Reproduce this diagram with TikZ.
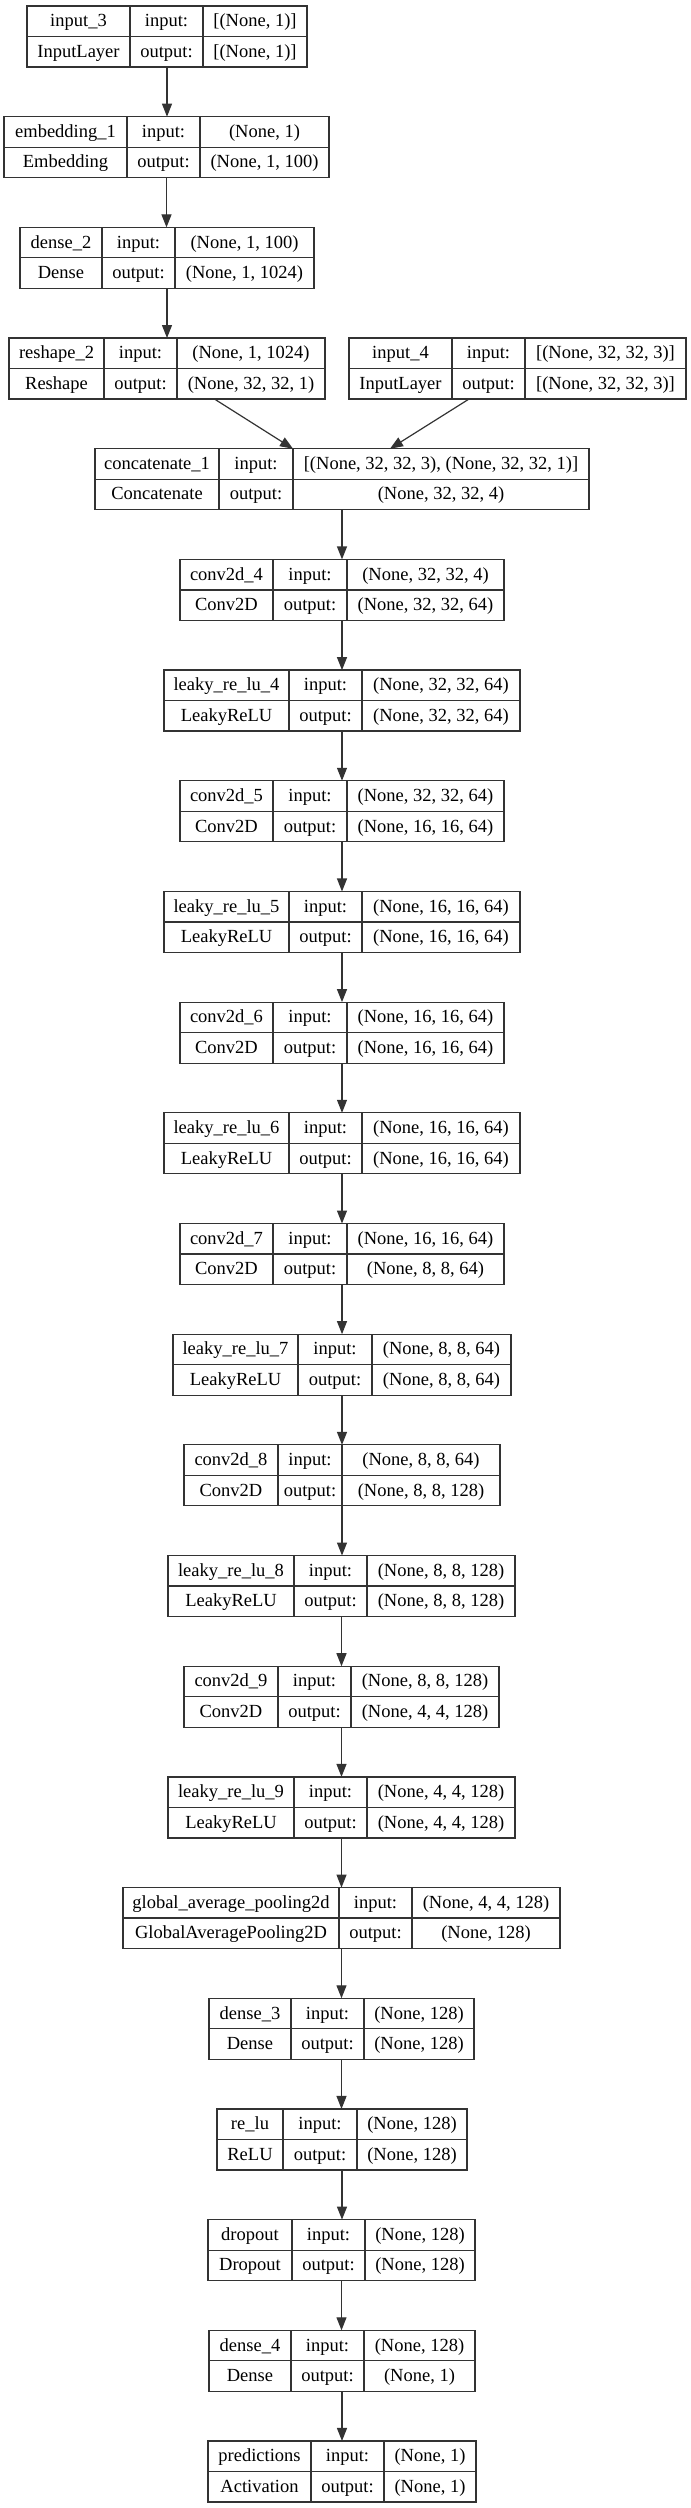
\documentclass[tikz,border=0pt]{standalone}
\usepackage{fontspec}
\setmainfont{Liberation Serif}
\usetikzlibrary{arrows.meta}
\definecolor{linegray}{HTML}{333333}

\tikzset{
  layerbox/.style={draw=linegray, line width=0.6pt, rectangle, inner sep=0pt, outer sep=0pt, minimum height=30.5pt, anchor=north west},
  cell/.style={inner sep=0pt, text height=7pt, text depth=1.5pt, font=\fontsize{9.25}{11}\selectfont},
  arr/.style={draw=linegray, line width=0.6pt, -{Triangle[length=6.5pt,width=5pt]}}
}

% column edges of the next box (px)
\newcommand{\cols}[4]{\def\xa{#1}\def\xb{#2}\def\xc{#3}\def\xd{#4}}
% name, row, layer, class, input, output
\newcommand{\kerasbox}[6]{%
  \pgfmathsetmacro\ytop{6+110.68*#2}%
  \pgfmathsetmacro\ymid{\ytop+30.5}%
  \pgfmathsetmacro\ybot{\ytop+61}%
  \pgfmathsetmacro\bw{(\xd-\xa)*0.5}%
  \node[layerbox, minimum width=\bw pt] (#1) at (\xa,\ytop) {};
  \draw[linegray, line width=0.6pt] (\xb,\ytop) -- (\xb,\ybot) (\xc,\ytop) -- (\xc,\ybot) (\xa,\ymid) -- (\xd,\ymid);
  \node[cell] (#1-name) at ({(\xa+\xb)/2},{\ytop+15.25}) {#3};
  \node[cell] (#1-class) at ({(\xa+\xb)/2},{\ymid+15.25}) {#4};
  \node[cell] (#1-inlbl) at ({(\xb+\xc)/2},{\ytop+15.25}) {input:};
  \node[cell] (#1-outlbl) at ({(\xb+\xc)/2},{\ymid+15.25}) {output:};
  \node[cell] (#1-in) at ({(\xc+\xd)/2},{\ytop+15.25}) {#5};
  \node[cell] (#1-out) at ({(\xc+\xd)/2},{\ymid+15.25}) {#6};
}

\begin{document}
\begin{tikzpicture}[x=0.5pt, y=-0.5pt]
\useasboundingbox (0,0) rectangle (691,2508);

% inputs and head
\cols{27}{130}{203}{307}
\kerasbox{input3}{0}{input\_3}{InputLayer}{[(None, 1)]}{[(None, 1)]}
\cols{4}{127}{200}{329}
\kerasbox{emb1}{1}{embedding\_1}{Embedding}{(None, 1)}{(None, 1, 100)}
\cols{20}{102}{175}{314}
\kerasbox{dense2}{2}{dense\_2}{Dense}{(None, 1, 100)}{(None, 1, 1024)}
\cols{9}{104}{177}{325}
\kerasbox{reshape2}{3}{reshape\_2}{Reshape}{(None, 1, 1024)}{(None, 32, 32, 1)}
\cols{349}{452}{525}{686}
\kerasbox{input4}{3}{input\_4}{InputLayer}{[(None, 32, 32, 3)]}{[(None, 32, 32, 3)]}
\cols{95}{219}{293}{589}
\kerasbox{concat1}{4}{concatenate\_1}{Concatenate}{[(None, 32, 32, 3), (None, 32, 32, 1)]}{(None, 32, 32, 4)}

% conv stack
\cols{180}{273}{347}{504}
\kerasbox{conv4}{5}{conv2d\_4}{Conv2D}{(None, 32, 32, 4)}{(None, 32, 32, 64)}
\cols{164}{289}{362}{520}
\kerasbox{leaky4}{6}{leaky\_re\_lu\_4}{LeakyReLU}{(None, 32, 32, 64)}{(None, 32, 32, 64)}
\cols{180}{273}{347}{504}
\kerasbox{conv5}{7}{conv2d\_5}{Conv2D}{(None, 32, 32, 64)}{(None, 16, 16, 64)}
\cols{164}{289}{362}{520}
\kerasbox{leaky5}{8}{leaky\_re\_lu\_5}{LeakyReLU}{(None, 16, 16, 64)}{(None, 16, 16, 64)}
\cols{180}{273}{347}{504}
\kerasbox{conv6}{9}{conv2d\_6}{Conv2D}{(None, 16, 16, 64)}{(None, 16, 16, 64)}
\cols{164}{289}{362}{520}
\kerasbox{leaky6}{10}{leaky\_re\_lu\_6}{LeakyReLU}{(None, 16, 16, 64)}{(None, 16, 16, 64)}
\cols{180}{273}{347}{504}
\kerasbox{conv7}{11}{conv2d\_7}{Conv2D}{(None, 16, 16, 64)}{(None, 8, 8, 64)}
\cols{173}{298}{372}{511}
\kerasbox{leaky7}{12}{leaky\_re\_lu\_7}{LeakyReLU}{(None, 8, 8, 64)}{(None, 8, 8, 64)}
\cols{184}{278}{342}{500}
\kerasbox{conv8}{13}{conv2d\_8}{Conv2D}{(None, 8, 8, 64)}{(None, 8, 8, 128)}
\cols{168}{294}{367}{515}
\kerasbox{leaky8}{14}{leaky\_re\_lu\_8}{LeakyReLU}{(None, 8, 8, 128)}{(None, 8, 8, 128)}
\cols{184}{278}{351}{499}
\kerasbox{conv9}{15}{conv2d\_9}{Conv2D}{(None, 8, 8, 128)}{(None, 4, 4, 128)}
\cols{168}{294}{367}{515}
\kerasbox{leaky9}{16}{leaky\_re\_lu\_9}{LeakyReLU}{(None, 4, 4, 128)}{(None, 4, 4, 128)}

% classifier
\cols{123}{339}{412}{560}
\kerasbox{gap}{17}{global\_average\_pooling2d}{GlobalAveragePooling2D}{(None, 4, 4, 128)}{(None, 128)}
\cols{209}{291}{364}{474}
\kerasbox{dense3}{18}{dense\_3}{Dense}{(None, 128)}{(None, 128)}
\cols{217}{283}{357}{467}
\kerasbox{relu}{19}{re\_lu}{ReLU}{(None, 128)}{(None, 128)}
\cols{208}{292}{365}{475}
\kerasbox{dropout}{20}{dropout}{Dropout}{(None, 128)}{(None, 128)}
\cols{209}{291}{364}{475}
\kerasbox{dense4}{21}{dense\_4}{Dense}{(None, 128)}{(None, 1)}
\cols{208}{311}{384}{476}
\kerasbox{pred}{22}{predictions}{Activation}{(None, 1)}{(None, 1)}

% edges
\draw[arr] (input3) -- (input3 |- emb1.north);
\draw[arr] (emb1) -- (emb1 |- dense2.north);
\draw[arr] (dense2) -- (dense2 |- reshape2.north);
\draw[arr] ([xshift=23.75pt]reshape2.south) -- ([xshift=-24.5pt]concat1.north);
\draw[arr] ([xshift=-24.25pt]input4.south) -- ([xshift=24pt]concat1.north);
\draw[arr] (concat1) -- (concat1 |- conv4.north);
\foreach \a/\b in {conv4/leaky4, leaky4/conv5, conv5/leaky5, leaky5/conv6, conv6/leaky6,
    leaky6/conv7, conv7/leaky7, leaky7/conv8, conv8/leaky8, leaky8/conv9, conv9/leaky9,
    leaky9/gap, gap/dense3, dense3/relu, relu/dropout, dropout/dense4, dense4/pred}
  \draw[arr] (\a) -- (\a |- \b.north);
\end{tikzpicture}
\end{document}
